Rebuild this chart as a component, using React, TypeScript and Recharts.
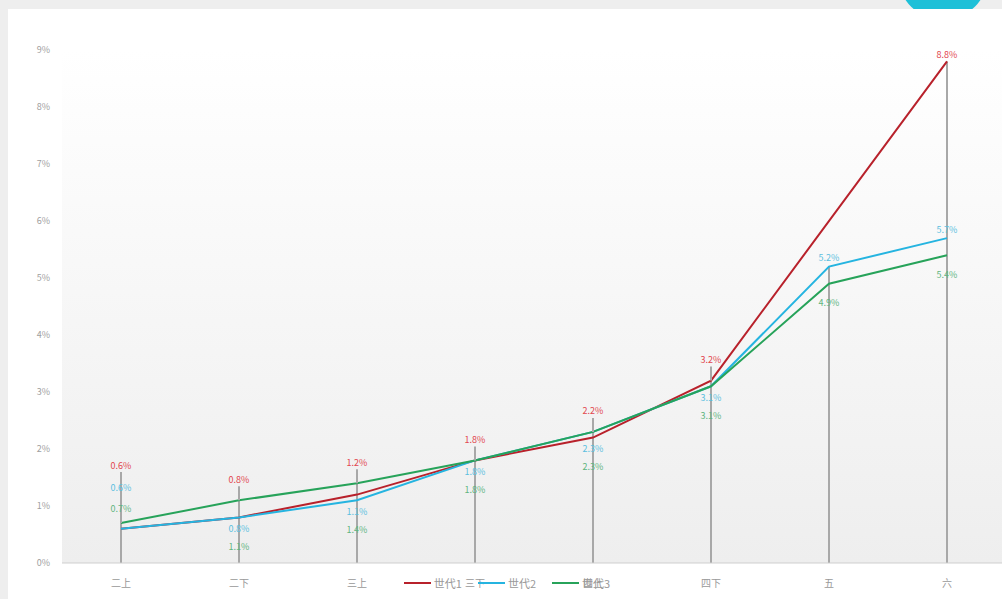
import {
  Bar,
  CartesianGrid,
  ComposedChart,
  LabelList,
  Line,
  XAxis,
  YAxis,
} from "recharts";

const grades = ["二上", "二下", "三上", "三下", "四上", "四下", "五", "六"];
const seriesNames = ["世代1", "世代2", "世代3"];
const gen1 = [0.6, 0.8, 1.2, 1.8, 2.2, 3.2, null, 8.8];
const gen2 = [0.6, 0.8, 1.1, 1.8, 2.3, 3.1, 5.2, 5.7];
const gen3 = [0.7, 1.1, 1.4, 1.8, 2.3, 3.1, 4.9, 5.4];
const yTicks = [0, 1, 2, 3, 4, 5, 6, 7, 8, 9];

const lineColors = ["#b8212b", "#25b4e0", "#27a35a"];
const labelColors = ["#e2474f", "#5cbfdf", "#5fb57f"];

const CHART_W = 998;
const CHART_H = 590;
const M_TOP = 41;
const M_BOTTOM = 6;
const X_AXIS_H = 30;
const PLOT_H = CHART_H - M_TOP - M_BOTTOM - X_AXIS_H;
const UNIT = PLOT_H / 9;
const AXIS_Y = M_TOP + PLOT_H;

const data = grades.map((g, i) => ({
  grade: g,
  s1: gen1[i],
  s2: gen2[i],
  s3: gen3[i],
  top: Math.max(...[gen1[i], gen2[i], gen3[i]].filter((v): v is number => v != null)),
}));

const fmt = (v: unknown) => (v == null ? "" : `${Number(v).toFixed(1)}%`);

// keeps the three labels of one category from piling up
function makeLabel(series: number) {
  return (props: any) => {
    const { x, y, value, index } = props;
    if (value == null) return null;
    const row: any = data[index];
    const vals = [row.s1, row.s2, row.s3].filter((v: any) => v != null);
    const max = Math.max(...vals);
    const min = Math.min(...vals);
    const topPx = y - (max - value) * UNIT;
    const botPx = y + (value - min) * UNIT;
    const separated = row.s1 == null || max - min > 1;
    let ly: number;
    if (separated) {
      ly = y + [-6, -8, 20][series];
    } else if (botPx + 30 > AXIS_Y - 8) {
      ly = topPx + [-57, -35, -14][series];
    } else {
      ly = series === 0 ? topPx - 20 : botPx + [0, 12, 30][series];
    }
    return (
      <g>
        {series === 0 && !separated && (
          <line
            x1={x}
            x2={x}
            y1={ly + 6}
            y2={topPx}
            stroke="#a8a8a8"
            strokeWidth={2}
          />
        )}
        <text
          x={x}
          y={ly}
          fill={labelColors[series]}
          fontSize={9}
          textAnchor="middle"
          dominantBaseline="middle"
        >
          {fmt(value)}
        </text>
      </g>
    );
  };
}

export default function App() {
  const keys = ["s1", "s2", "s3"];

  return (
    <div
      style={{
        position: "fixed",
        left: 0,
        top: 0,
        width: 1002,
        height: 599,
        background: "#eeeeee",
        overflow: "hidden",
        fontFamily: "'Noto Sans CJK SC', 'Noto Sans', sans-serif",
      }}
    >
      <div
        style={{
          position: "absolute",
          left: 898,
          top: -70,
          width: 90,
          height: 90,
          borderRadius: "50%",
          background: "#1ec0d8",
        }}
      />
      <div
        style={{
          position: "absolute",
          left: 8,
          top: 9,
          width: 1000,
          height: 590,
          background: "#ffffff",
        }}
      >
        <ComposedChart
          width={CHART_W}
          height={CHART_H}
          data={data}
          margin={{ top: M_TOP, right: 0, left: 0, bottom: M_BOTTOM }}
        >
          <defs>
            <linearGradient id="plotBg" x1="0" y1="0" x2="0" y2="1">
              <stop offset="0%" stopColor="#ffffff" />
              <stop offset="100%" stopColor="#eeeeee" />
            </linearGradient>
          </defs>
          <CartesianGrid
            horizontal={false}
            vertical={false}
            fill="url(#plotBg)"
            stroke="none"
          />
          <XAxis
            dataKey="grade"
            height={X_AXIS_H}
            axisLine={{ stroke: "#cfcfcf" }}
            tickLine={false}
            tick={{ fill: "#999999", fontSize: 10, dy: 9 }}
            interval={0}
          />
          <YAxis
            width={54}
            domain={[0, 9]}
            ticks={yTicks}
            tickFormatter={(v) => `${v}%`}
            axisLine={false}
            tickLine={false}
            tick={{ fill: "#a0a0a0", fontSize: 9, dx: -4 }}
          />
          <Bar
            dataKey="top"
            barSize={2}
            fill="#a8a8a8"
            isAnimationActive={false}
            legendType="none"
          />
          {keys.map((k, i) => (
            <Line
              key={k}
              type="linear"
              dataKey={k}
              name={seriesNames[i]}
              stroke={lineColors[i]}
              strokeWidth={2}
              dot={false}
              activeDot={false}
              connectNulls
              isAnimationActive={false}
            >
              <LabelList dataKey={k} content={makeLabel(i)} />
            </Line>
          ))}
        </ComposedChart>
        <div
          style={{
            position: "absolute",
            top: 566,
            left: 0,
            width: CHART_W,
            display: "flex",
            justifyContent: "center",
            gap: 16,
            fontSize: 11,
            color: "#999999",
          }}
        >
          {seriesNames.map((n, i) => (
            <div
              key={n}
              style={{ display: "flex", alignItems: "center", gap: 3 }}
            >
              <span
                style={{
                  display: "inline-block",
                  width: 27,
                  height: 2,
                  background: lineColors[i],
                }}
              />
              <span>{n}</span>
            </div>
          ))}
        </div>
      </div>
    </div>
  );
}
